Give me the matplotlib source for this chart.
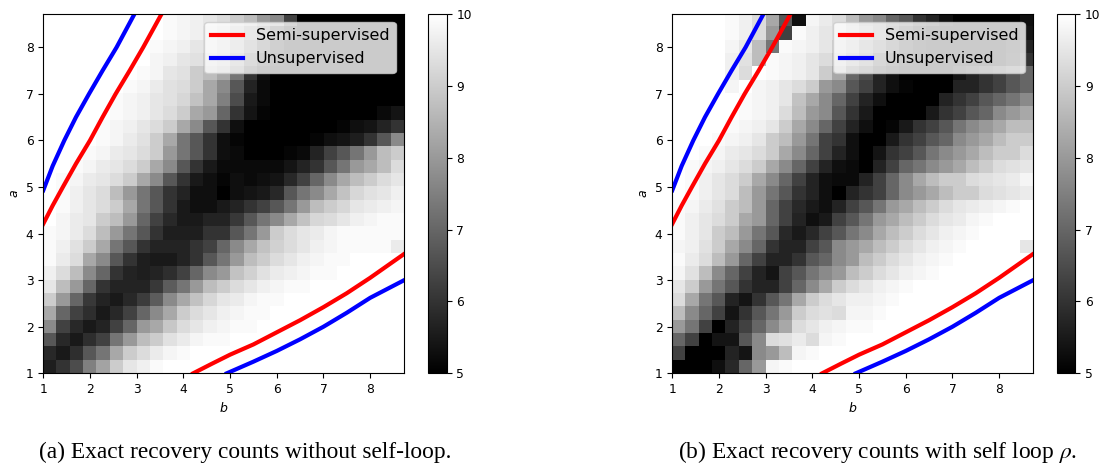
import numpy as np
import matplotlib
matplotlib.use('Agg')
import matplotlib.pyplot as plt

plt.rcParams['mathtext.fontset'] = 'stix'

# exact recovery counts, rows go from a=1 (bottom) upward, columns from b=1 to the right
counts_no_loop = [
    [5.6, 6.0, 6.5, 7.5, 8.2, 9.0, 9.5, 9.7, 9.9, 10, 10, 10, 10, 10, 10, 10, 10, 10, 10, 10, 10, 10, 10, 10, 10, 10, 10],
    [5.8, 5.5, 5.9, 6.7, 7.3, 8.3, 9.0, 9.3, 9.6, 9.8, 9.9, 10, 10, 10, 10, 10, 10, 10, 10, 10, 10, 10, 10, 10, 10, 10, 10],
    [6.7, 5.8, 5.5, 5.9, 6.3, 7.3, 8.0, 8.7, 9.0, 9.4, 9.6, 9.8, 9.9, 9.9, 10, 10, 10, 10, 10, 10, 10, 10, 10, 10, 10, 10, 10],
    [7.7, 6.3, 5.8, 5.5, 5.7, 6.3, 7.0, 8.0, 8.3, 8.9, 9.3, 9.5, 9.7, 9.8, 9.9, 9.9, 10, 10, 10, 10, 10, 10, 10, 10, 10, 10, 10],
    [8.3, 7.0, 6.3, 5.9, 5.5, 5.8, 6.3, 7.0, 7.7, 8.3, 9.0, 9.3, 9.5, 9.7, 9.8, 9.9, 9.9, 10, 10, 10, 10, 10, 10, 10, 10, 10, 10],
    [9.0, 8.0, 7.0, 6.1, 5.7, 5.5, 5.8, 6.2, 6.8, 7.7, 8.3, 8.8, 9.2, 9.5, 9.6, 9.8, 9.9, 9.9, 10, 10, 10, 10, 10, 10, 10, 10, 10],
    [9.5, 8.7, 8.0, 7.0, 6.0, 5.7, 5.7, 5.7, 6.1, 6.8, 7.3, 8.0, 8.7, 9.0, 9.3, 9.5, 9.7, 9.8, 9.9, 9.9, 10, 10, 10, 10, 10, 10, 10],
    [9.7, 9.3, 8.7, 7.7, 7.0, 6.0, 5.7, 5.6, 5.7, 5.9, 6.3, 7.0, 7.7, 8.0, 8.8, 9.1, 9.4, 9.6, 9.7, 9.8, 9.9, 9.9, 10, 10, 10, 10, 10],
    [9.9, 9.6, 9.3, 8.3, 7.7, 6.7, 6.0, 5.6, 5.5, 5.5, 5.7, 6.0, 6.7, 7.3, 8.0, 8.7, 9.0, 9.3, 9.5, 9.7, 9.8, 9.9, 9.9, 10, 10, 10, 10],
    [9.9, 9.7, 9.4, 9.0, 8.3, 7.3, 6.7, 6.0, 5.7, 5.7, 5.7, 6.0, 6.3, 7.0, 7.7, 8.3, 8.8, 9.1, 9.3, 9.5, 9.7, 9.8, 9.9, 9.9, 9.9, 9.9, 9.6],
    [9.9, 9.8, 9.6, 9.3, 8.7, 8.0, 7.3, 6.7, 6.0, 5.6, 5.6, 5.6, 6.0, 6.0, 6.7, 7.3, 8.0, 9.0, 9.3, 9.5, 9.6, 9.8, 9.9, 9.9, 9.9, 9.9, 9.9],
    [10, 9.8, 9.6, 9.5, 9.0, 8.7, 8.0, 7.0, 6.3, 5.8, 5.5, 5.5, 5.7, 5.7, 6.1, 6.7, 7.3, 7.7, 8.3, 8.8, 9.2, 9.3, 9.5, 9.7, 9.8, 9.9, 9.9],
    [10, 9.9, 9.7, 9.5, 9.3, 9.0, 8.3, 7.3, 6.7, 6.0, 5.5, 5.3, 5.3, 5.5, 5.7, 6.0, 6.3, 6.7, 7.3, 8.0, 8.7, 9.0, 9.2, 9.5, 9.6, 9.7, 9.8],
    [10, 9.9, 9.7, 9.5, 9.3, 8.7, 8.0, 7.3, 6.7, 6.0, 5.7, 5.3, 5.3, 5.0, 5.3, 5.4, 5.5, 5.8, 6.7, 7.3, 7.7, 8.3, 8.8, 9.2, 9.4, 9.5, 9.7],
    [10, 9.9, 9.8, 9.6, 9.5, 9.3, 9.0, 8.3, 7.7, 6.7, 6.0, 5.5, 5.3, 5.1, 5.3, 5.2, 5.3, 5.4, 5.8, 6.3, 7.0, 7.7, 8.3, 8.7, 9.0, 9.3, 9.5],
    [10, 10, 9.9, 9.8, 9.6, 9.5, 9.3, 9.0, 8.3, 7.7, 6.7, 6.0, 5.5, 5.2, 5.2, 5.2, 5.2, 5.2, 5.4, 5.7, 6.0, 6.7, 7.3, 8.0, 8.3, 8.7, 9.3],
    [10, 10, 10, 9.9, 9.8, 9.6, 9.5, 9.3, 9.0, 8.0, 7.3, 6.7, 6.0, 5.3, 5.2, 5.0, 5.0, 5.0, 5.1, 5.2, 5.7, 6.3, 6.7, 7.3, 8.0, 8.7, 9.0],
    [10, 10, 10, 10, 9.9, 9.8, 9.6, 9.4, 9.0, 8.3, 7.3, 6.7, 6.0, 5.3, 5.1, 5.0, 5.0, 5.0, 5.0, 5.0, 5.1, 5.3, 5.4, 5.6, 6.0, 6.7, 7.7],
    [10, 10, 10, 10, 9.9, 9.8, 9.7, 9.5, 9.3, 9.0, 8.3, 7.7, 6.7, 6.0, 5.3, 5.0, 5.0, 5.0, 5.0, 5.0, 5.0, 5.0, 5.1, 5.3, 5.4, 5.7, 6.0],
    [10, 10, 10, 10, 10, 9.9, 9.8, 9.7, 9.5, 9.3, 9.0, 8.3, 8.0, 7.0, 6.0, 5.4, 5.1, 5.0, 5.0, 5.0, 5.0, 5.0, 5.0, 5.0, 5.0, 5.2, 5.4],
    [10, 10, 10, 10, 10, 9.9, 9.8, 9.7, 9.5, 9.4, 9.2, 8.8, 8.3, 7.5, 6.5, 5.5, 5.2, 5.0, 5.0, 5.0, 5.0, 5.0, 5.0, 5.0, 5.0, 5.0, 5.0],
    [10, 10, 10, 10, 10, 10, 9.9, 9.8, 9.6, 9.4, 9.3, 9.0, 8.3, 7.7, 6.7, 5.7, 5.2, 5.0, 5.0, 5.0, 5.0, 5.0, 5.0, 5.0, 5.0, 5.0, 5.0],
    [10, 10, 10, 10, 10, 10, 10, 9.9, 9.8, 9.5, 9.4, 9.0, 8.7, 8.3, 7.3, 6.0, 5.3, 5.0, 5.0, 5.0, 5.0, 5.0, 5.0, 5.0, 5.0, 5.0, 5.0],
    [10, 10, 10, 10, 10, 10, 10, 10, 9.8, 9.7, 9.5, 9.4, 9.0, 8.7, 7.8, 6.7, 5.7, 5.2, 5.0, 5.0, 5.0, 5.0, 5.0, 5.0, 5.0, 5.0, 5.0],
    [10, 10, 10, 10, 10, 10, 10, 10, 9.9, 9.8, 9.7, 9.5, 9.3, 8.9, 8.3, 7.3, 6.3, 5.5, 5.0, 5.0, 5.0, 5.0, 5.0, 5.0, 5.0, 5.0, 5.0],
    [10, 10, 10, 10, 10, 10, 10, 10, 10, 9.9, 9.8, 9.7, 9.4, 9.1, 8.6, 7.8, 7.0, 6.0, 5.3, 5.0, 5.0, 5.0, 5.0, 5.0, 5.0, 5.0, 5.0],
    [10, 10, 10, 10, 10, 10, 10, 10, 10, 9.9, 9.8, 9.7, 9.5, 9.3, 9.0, 8.7, 8.0, 7.7, 6.3, 5.0, 5.0, 5.0, 5.0, 5.0, 5.0, 5.0, 5.0],
]

counts_self_loop = [
    [5.0, 5.0, 5.0, 5.3, 5.8, 7.0, 8.0, 9.8, 9.9, 10, 10, 10, 10, 10, 10, 10, 10, 10, 10, 10, 10, 10, 10, 10, 10, 10, 10],
    [6.3, 5.0, 5.0, 5.0, 5.7, 5.4, 7.7, 8.0, 8.7, 9.8, 9.9, 10, 10, 10, 10, 10, 10, 10, 10, 10, 10, 10, 10, 10, 10, 10, 10],
    [7.0, 6.3, 5.0, 5.4, 5.4, 6.7, 7.7, 9.3, 9.4, 9.6, 9.3, 9.8, 9.9, 10, 10, 10, 10, 10, 10, 10, 10, 10, 10, 10, 10, 10, 10],
    [8.0, 7.3, 6.3, 5.0, 5.7, 6.3, 7.0, 7.7, 8.3, 9.3, 9.5, 9.7, 9.8, 9.9, 9.9, 10, 10, 10, 10, 10, 10, 10, 10, 10, 10, 10, 10],
    [8.7, 7.7, 7.0, 6.3, 5.4, 6.0, 6.7, 7.3, 8.0, 9.0, 9.3, 9.4, 9.3, 9.8, 9.8, 9.9, 10, 10, 10, 10, 10, 10, 10, 10, 10, 10, 10],
    [9.3, 8.3, 7.3, 6.7, 5.7, 5.4, 6.0, 6.7, 7.3, 8.3, 9.0, 9.3, 9.5, 9.7, 9.7, 9.8, 9.9, 10, 10, 10, 10, 10, 10, 10, 10, 10, 10],
    [9.5, 9.0, 8.0, 7.3, 6.7, 6.0, 5.7, 5.7, 6.3, 7.0, 7.7, 8.3, 9.0, 9.3, 9.5, 9.7, 9.8, 9.9, 10, 10, 10, 10, 10, 10, 10, 10, 10],
    [9.8, 9.4, 8.7, 7.7, 7.0, 6.3, 5.7, 5.4, 6.3, 6.7, 7.3, 7.7, 8.0, 8.7, 9.0, 9.3, 9.5, 9.7, 9.8, 9.9, 10, 10, 10, 10, 10, 10, 10],
    [9.9, 9.6, 9.3, 8.7, 8.0, 7.0, 6.3, 5.7, 5.7, 6.0, 6.7, 7.0, 7.7, 8.0, 8.7, 9.0, 9.3, 9.5, 9.7, 9.8, 9.9, 10, 10, 10, 10, 10, 10],
    [9.8, 9.7, 9.4, 9.0, 8.3, 7.7, 7.0, 6.0, 5.7, 5.7, 6.3, 6.7, 7.7, 8.0, 8.3, 8.7, 9.0, 9.3, 9.5, 9.7, 9.8, 9.9, 10, 10, 10, 10, 9.5],
    [9.9, 9.7, 9.5, 9.0, 8.7, 8.0, 7.3, 6.7, 5.8, 5.5, 5.8, 6.3, 6.7, 7.3, 7.7, 8.3, 8.7, 9.0, 9.3, 9.5, 9.7, 9.8, 9.9, 10, 10, 10, 10],
    [9.9, 9.7, 9.5, 9.3, 9.0, 8.3, 8.0, 7.0, 6.3, 5.7, 5.3, 5.5, 6.3, 6.7, 7.3, 8.0, 8.3, 8.7, 9.0, 9.3, 9.5, 9.6, 9.8, 9.9, 10, 10, 10],
    [9.9, 9.8, 9.6, 9.4, 9.0, 8.7, 8.0, 7.0, 6.3, 5.8, 5.5, 5.3, 5.7, 6.3, 6.7, 7.3, 8.0, 8.3, 8.7, 9.0, 9.3, 9.5, 9.6, 9.7, 9.8, 9.9, 10],
    [10, 9.9, 9.7, 9.5, 9.3, 8.7, 8.0, 7.3, 6.7, 6.0, 5.7, 5.3, 5.0, 5.7, 6.0, 6.3, 7.0, 7.7, 8.0, 8.3, 8.7, 9.0, 9.0, 9.3, 9.4, 9.5, 9.6],
    [10, 9.9, 9.7, 9.5, 9.3, 9.0, 8.3, 7.7, 7.0, 6.3, 5.7, 5.3, 5.2, 5.2, 5.7, 6.3, 7.0, 7.7, 8.3, 8.7, 9.0, 9.0, 9.3, 9.4, 9.5, 9.6, 9.8],
    [10, 9.9, 9.8, 9.7, 9.5, 9.3, 9.0, 8.3, 7.7, 7.0, 6.3, 5.7, 5.3, 5.2, 5.0, 5.7, 6.3, 7.0, 7.3, 7.7, 8.0, 8.3, 8.7, 9.0, 9.3, 9.4, 9.5],
    [10, 10, 9.9, 9.8, 9.6, 9.5, 9.3, 9.0, 8.3, 7.7, 7.0, 6.3, 5.7, 5.3, 5.0, 5.4, 6.0, 6.3, 6.7, 7.3, 7.7, 8.0, 8.3, 8.7, 9.0, 9.0, 9.3],
    [10, 10, 10, 9.9, 9.8, 9.7, 9.5, 9.0, 8.7, 8.0, 7.3, 6.3, 6.0, 5.3, 5.0, 5.0, 5.5, 6.0, 6.3, 6.7, 7.0, 7.7, 8.0, 8.3, 8.7, 9.0, 9.0],
    [10, 10, 10, 10, 9.9, 9.8, 9.7, 9.5, 9.0, 8.3, 7.7, 7.0, 6.3, 5.7, 5.3, 5.0, 5.1, 5.5, 6.0, 6.3, 6.7, 7.3, 7.7, 8.0, 8.3, 8.7, 8.7],
    [10, 10, 10, 10, 10, 9.9, 9.8, 9.7, 9.3, 8.7, 8.0, 7.7, 6.7, 6.0, 5.5, 5.0, 5.0, 5.0, 5.0, 5.5, 6.0, 6.3, 6.7, 7.0, 7.7, 8.0, 8.3],
    [10, 10, 10, 10, 10, 9.9, 9.8, 9.7, 9.5, 8.8, 8.3, 7.7, 7.0, 6.3, 5.7, 5.3, 5.0, 5.0, 5.0, 5.0, 5.7, 6.0, 6.3, 6.7, 7.0, 7.3, 7.7],
    [10, 10, 10, 10, 9.8, 10, 9.8, 9.7, 9.5, 9.3, 9.0, 8.0, 7.7, 6.7, 6.3, 5.7, 5.3, 5.1, 5.0, 5.0, 5.0, 5.7, 5.7, 6.0, 6.3, 6.7, 7.0],
    [10, 10, 10, 10, 9.7, 9.3, 10, 9.9, 9.8, 9.7, 9.5, 9.0, 8.3, 7.0, 6.5, 5.7, 5.3, 5.0, 5.0, 5.0, 5.0, 5.4, 5.7, 6.0, 6.3, 6.7, 7.0],
    [10, 10, 10, 10, 9.7, 9.4, 8.7, 9.9, 9.8, 9.7, 9.5, 9.3, 8.7, 8.0, 7.3, 6.3, 5.7, 5.2, 5.0, 5.0, 5.0, 5.0, 5.0, 5.0, 5.0, 5.4, 6.0],
    [10, 10, 10, 10, 9.8, 9.5, 8.7, 7.3, 9.9, 9.8, 9.7, 9.5, 9.0, 8.5, 7.7, 7.0, 6.3, 5.6, 5.2, 5.0, 5.0, 5.0, 5.0, 5.0, 5.0, 5.3, 5.7],
    [10, 10, 10, 10, 9.9, 9.7, 9.3, 8.0, 6.3, 9.9, 9.7, 9.5, 9.3, 8.8, 8.3, 7.7, 6.8, 6.0, 5.4, 5.0, 5.0, 5.0, 5.0, 5.0, 5.0, 5.0, 5.4],
    [10, 10, 10, 10, 9.9, 9.7, 9.3, 8.3, 6.7, 5.3, 9.8, 9.6, 9.3, 8.7, 8.0, 7.7, 7.0, 6.7, 6.0, 5.7, 5.3, 5.0, 5.0, 5.0, 5.0, 5.0, 5.3],
]

# threshold curves (b, a)
semi_upper_b = [1.0, 1.2, 1.42, 1.7, 2.0, 2.27, 2.55, 2.85, 3.14, 3.53]
semi_upper_a = [4.21, 4.6, 5.0, 5.5, 6.0, 6.5, 7.0, 7.5, 8.0, 8.71]
semi_lower_b = [4.21, 4.6, 5.0, 5.5, 6.0, 6.5, 7.0, 7.5, 8.0, 8.71]
semi_lower_a = [1.0, 1.2, 1.4, 1.62, 1.88, 2.14, 2.42, 2.72, 3.05, 3.55]
unsup_upper_b = [1.0, 1.2, 1.45, 1.7, 1.98, 2.27, 2.57, 2.95]
unsup_upper_a = [4.93, 5.45, 6.0, 6.5, 7.0, 7.5, 8.0, 8.71]
unsup_lower_b = [4.93, 5.5, 6.0, 6.5, 7.0, 7.5, 8.0, 8.71]
unsup_lower_a = [1.0, 1.25, 1.48, 1.73, 2.0, 2.3, 2.62, 2.99]

grid_min, grid_max = 1.0, 8.714
captions = ['(a) Exact recovery counts without self-loop.',
            r'(b) Exact recovery counts with self loop $\rho$.']

W, H = 1101, 463
fig = plt.figure(figsize=(W / 100, H / 100), dpi=100)

panels = [(counts_no_loop, 43.3, 428.3, 245.6), (counts_self_loop, 672.3, 1056.7, 878.0)]
for k, (counts, ax_left, cb_left, cap_x) in enumerate(panels):
    ax = fig.add_axes([ax_left / W, (H - 373.3) / H, 360.2 / W, 359.3 / H])
    cax = fig.add_axes([cb_left / W, (H - 373.3) / H, 18.4 / W, 359.3 / H])

    im = ax.imshow(np.array(counts), origin='lower', cmap='gray', vmin=5, vmax=10,
                   extent=[grid_min, grid_max, grid_min, grid_max],
                   aspect='auto', interpolation='nearest')
    ax.plot(semi_upper_b, semi_upper_a, color='red', lw=3, label='Semi-supervised')
    ax.plot(semi_lower_b, semi_lower_a, color='red', lw=3)
    ax.plot(unsup_upper_b, unsup_upper_a, color='blue', lw=3, label='Unsupervised')
    ax.plot(unsup_lower_b, unsup_lower_a, color='blue', lw=3)
    ax.set_xlim(grid_min, grid_max)
    ax.set_ylim(grid_min, grid_max)
    ax.set_xticks(range(1, 9))
    ax.set_yticks(range(1, 9))
    ax.tick_params(labelsize=8.8)
    ax.set_xlabel('b', fontsize=9, fontstyle='italic')
    ax.set_ylabel('a', fontsize=9, fontstyle='italic')
    ax.legend(loc='upper right', fontsize=11.5)

    cb = fig.colorbar(im, cax=cax, ticks=[5, 6, 7, 8, 9, 10])
    cb.ax.tick_params(labelsize=8.8)

    fig.text(cap_x / W, 0.011, captions[k], ha='center', va='baseline',
             fontsize=16.8, family='Liberation Serif')

fig.savefig('out.png', dpi=100)
